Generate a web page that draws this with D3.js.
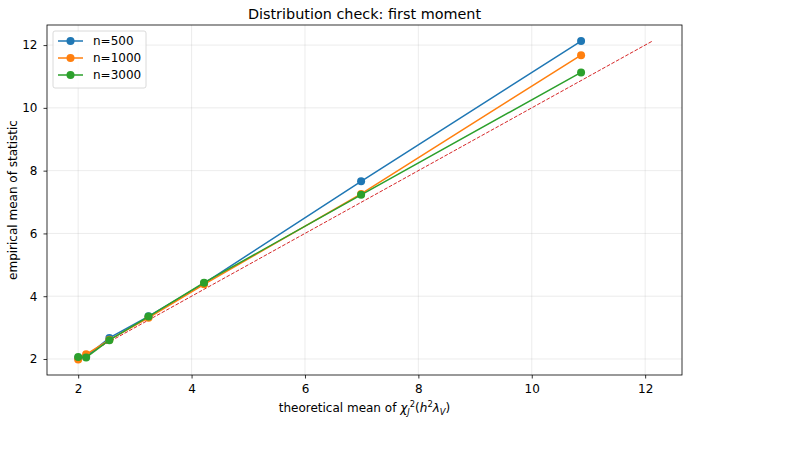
<!DOCTYPE html>
<html><head><meta charset="utf-8">
<script src="https://cdn.jsdelivr.net/npm/d3@7"></script>
<style>body{margin:0;background:#fff}svg{font-family:"DejaVu Sans",sans-serif}</style>
</head><body><svg id="c" width="804" height="458"></svg>
<script>
const theoretical = [2.0, 2.14, 2.55, 3.24, 4.22, 6.99, 10.87];
const seriesNames = ["n=500", "n=1000", "n=3000"];
const seriesColors = ["#1f77b4", "#ff7f0e", "#2ca02c"];
const n500 = [2.03, 2.08, 2.67, 3.36, 4.41, 7.66, 12.13];
const n1000 = [1.98, 2.15, 2.61, 3.31, 4.38, 7.26, 11.68];
const n3000 = [2.06, 2.05, 2.60, 3.35, 4.43, 7.23, 11.13];
const xTicks = [2, 4, 6, 8, 10, 12];
const yTicks = [2, 4, 6, 8, 10, 12];
const refLine = [2.0, 12.12];

const svg = d3.select("#c");
const L = 47, R = 682, T = 25, B = 375;
const x = d3.scaleLinear().domain([1.45, 12.65]).range([L, R]);
const y = d3.scaleLinear().domain([1.49, 12.64]).range([B, T]);

// grid
svg.append("g").selectAll("line").data(xTicks).join("line")
  .attr("x1", d => x(d)).attr("x2", d => x(d)).attr("y1", T).attr("y2", B)
  .attr("stroke", "#b0b0b0").attr("stroke-opacity", 0.3).attr("stroke-width", 0.8);
svg.append("g").selectAll("line").data(yTicks).join("line")
  .attr("y1", d => y(d)).attr("y2", d => y(d)).attr("x1", L).attr("x2", R)
  .attr("stroke", "#b0b0b0").attr("stroke-opacity", 0.3).attr("stroke-width", 0.8);

// axes
const xa = svg.append("g").attr("transform", `translate(0,${B})`)
  .call(d3.axisBottom(x).tickValues(xTicks).tickSize(3.5).tickPadding(5.5).tickFormat(d3.format("d")));
const ya = svg.append("g").attr("transform", `translate(${L},0)`)
  .call(d3.axisLeft(y).tickValues(yTicks).tickSize(3.5).tickPadding(6).tickFormat(d3.format("d")));
[xa, ya].forEach(a => {
  a.select(".domain").remove();
  a.selectAll("text").attr("font-size", 12).attr("fill", "#000").attr("font-family", "DejaVu Sans");
  a.selectAll("line").attr("stroke", "#000").attr("stroke-width", 0.8);
});

// reference line
svg.append("line")
  .attr("x1", x(refLine[0])).attr("y1", y(refLine[0]))
  .attr("x2", x(refLine[1])).attr("y2", y(refLine[1]))
  .attr("stroke", "#d62728").attr("stroke-width", 1).attr("stroke-dasharray", "3.7,1.6");

const allSeries = [n500, n1000, n3000];
const line = d3.line().x((d, i) => x(theoretical[i])).y(d => y(d));
allSeries.forEach((vals, k) => {
  const g = svg.append("g");
  g.append("path").datum(vals).attr("d", line).attr("fill", "none")
    .attr("stroke", seriesColors[k]).attr("stroke-width", 1.5);
  g.selectAll("circle").data(vals).join("circle")
    .attr("cx", (d, i) => x(theoretical[i])).attr("cy", d => y(d)).attr("r", 4)
    .attr("fill", seriesColors[k]);
});

// frame
svg.append("rect").attr("x", L).attr("y", T).attr("width", R - L).attr("height", B - T)
  .attr("fill", "none").attr("stroke", "#000").attr("stroke-width", 0.8);

// legend
const lg = svg.append("g");
lg.append("rect").attr("x", 53).attr("y", 31).attr("width", 93).attr("height", 57).attr("rx", 2)
  .attr("fill", "#fff").attr("fill-opacity", 0.8).attr("stroke", "#d0d0d0").attr("stroke-width", 0.8);
seriesNames.forEach((nm, k) => {
  const yy = 41 + k * 17;
  lg.append("line").attr("x1", 58).attr("x2", 83).attr("y1", yy).attr("y2", yy)
    .attr("stroke", seriesColors[k]).attr("stroke-width", 1.5);
  lg.append("circle").attr("cx", 70.5).attr("cy", yy).attr("r", 4).attr("fill", seriesColors[k]);
  lg.append("text").attr("x", 93).attr("y", yy + 4.3).attr("font-size", 12).text(nm);
});

// title
svg.append("text").attr("x", (L + R) / 2).attr("y", 19).attr("text-anchor", "middle")
  .attr("font-size", 14.4).text("Distribution check: first moment");

// y label
svg.append("text").attr("transform", `translate(17,${(T + B) / 2}) rotate(-90)`)
  .attr("text-anchor", "middle").attr("font-size", 12).text("empirical mean of statistic");

// x label
const xl = svg.append("text").attr("x", (L + R) / 2).attr("y", 412).attr("text-anchor", "middle").attr("font-size", 12);
xl.append("tspan").text("theoretical mean of ");
xl.append("tspan").attr("font-style", "italic").text("χ");
xl.append("tspan").attr("font-size", 8.4).attr("font-style", "italic").attr("dy", 3).text("J");
xl.append("tspan").attr("font-size", 8.4).attr("dy", -8).text("2");
xl.append("tspan").attr("dy", 5).text("(");
xl.append("tspan").attr("font-style", "italic").text("h");
xl.append("tspan").attr("font-size", 8.4).attr("dy", -5).text("2");
xl.append("tspan").attr("font-style", "italic").attr("dy", 5).text("λ");
xl.append("tspan").attr("font-size", 8.4).attr("font-style", "italic").attr("dy", 3).text("V");
xl.append("tspan").attr("dy", -3).text(")");
</script></body></html>
